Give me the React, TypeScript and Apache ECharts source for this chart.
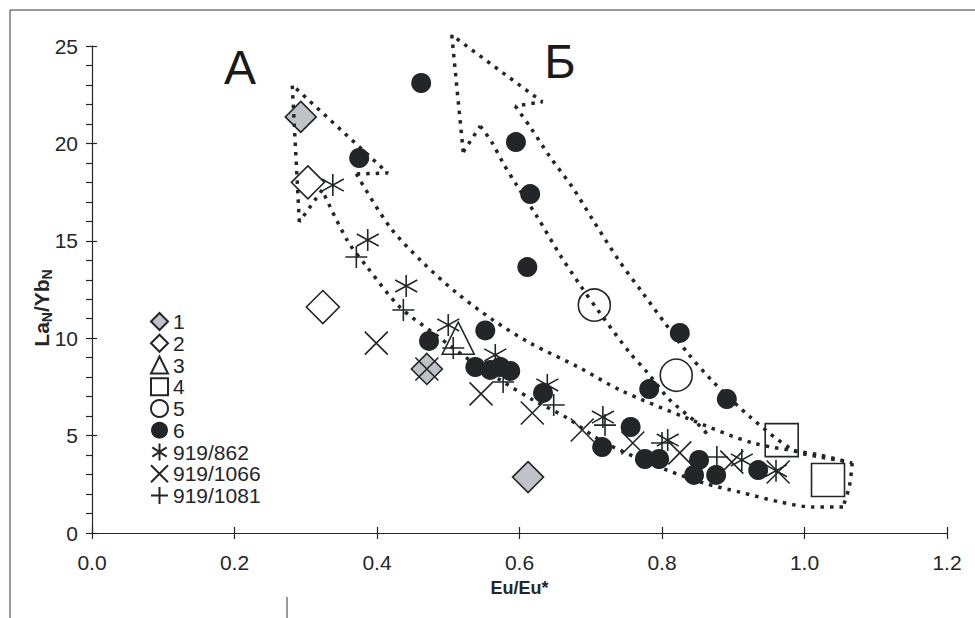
import React, { useEffect, useRef } from "react";
import * as echarts from "echarts";

// ---- data (Eu/Eu*, LaN/YbN) ----
const s1 = [[0.293, 21.36], [0.47, 8.42], [0.612, 2.87]];
const s2 = [[0.303, 18.0], [0.324, 11.6]];
const s3 = [[0.514, 10.0]];
const s4 = [[0.968, 4.77], [1.033, 2.72]];
const s5 = [[0.705, 11.7], [0.82, 8.1]];
const s6 = [
  [0.462, 23.1], [0.375, 19.25], [0.595, 20.07], [0.615, 17.4], [0.611, 13.65],
  [0.552, 10.4], [0.473, 9.86], [0.538, 8.52], [0.559, 8.37], [0.573, 8.52],
  [0.587, 8.32], [0.633, 7.19], [0.716, 4.41], [0.756, 5.44], [0.782, 7.39],
  [0.825, 10.27], [0.891, 6.88], [0.776, 3.8], [0.796, 3.8], [0.852, 3.75],
  [0.845, 2.98], [0.876, 2.98], [0.935, 3.23],
];
const s862 = [
  [0.338, 17.86], [0.387, 15.04], [0.441, 12.68], [0.5, 10.68], [0.566, 9.14],
  [0.639, 7.6], [0.717, 5.95], [0.808, 4.77], [0.912, 3.75], [0.96, 3.2],
];
const s1066 = [
  [0.399, 9.75], [0.47, 8.42], [0.546, 7.14], [0.618, 6.16], [0.688, 5.29],
  [0.759, 4.62], [0.825, 4.11], [0.898, 3.64], [0.963, 3.13],
];
const s1081 = [
  [0.371, 14.17], [0.437, 11.45], [0.507, 9.5], [0.577, 7.75], [0.648, 6.57],
  [0.72, 5.54], [0.8, 4.62], [0.877, 3.9],
];

// ---- outlined fields (dotted arrows) ----
const arrowAHead = [[0.291, 15.97], [0.281, 23.0], [0.415, 18.48], [0.371, 18.43]];
const arrowAUpper = [
  [0.371, 18.43], [0.418, 15.71], [0.465, 13.86], [0.512, 12.32], [0.563, 10.93],
  [0.615, 9.75], [0.685, 8.47], [0.741, 7.34], [0.835, 5.9], [0.928, 4.62],
  [1.022, 4.0], [1.067, 3.59],
];
const arrowAEnd = [[1.067, 3.59], [1.063, 2.4], [1.054, 1.33]];
const arrowALower = [
  [1.054, 1.33], [1.012, 1.33], [0.966, 1.59], [0.909, 2.1], [0.858, 2.57],
  [0.807, 3.23], [0.759, 3.95], [0.713, 4.77], [0.667, 5.9], [0.619, 6.83],
  [0.573, 7.85], [0.526, 8.98], [0.479, 10.27], [0.432, 11.6], [0.386, 13.66],
  [0.358, 15.04], [0.323, 17.61],
];
const arrowANotch = [[0.323, 17.61], [0.291, 15.97]];

const arrowBHead = [[0.521, 19.56], [0.512, 22.9], [0.505, 25.56], [0.632, 22.13], [0.594, 21.92]];
const arrowBRight = [
  [0.594, 21.92], [0.615, 20.84], [0.643, 19.3], [0.675, 17.71], [0.703, 16.07],
  [0.741, 13.91], [0.773, 12.32], [0.804, 10.78], [0.836, 9.24], [0.872, 7.75],
  [0.924, 5.95], [0.984, 4.26], [1.022, 3.9], [1.064, 3.64],
];
const arrowBNotch = [[0.521, 19.56], [0.545, 20.89]];
const arrowBLeft = [
  [0.545, 20.89], [0.561, 20.07], [0.577, 18.99], [0.596, 17.86], [0.625, 16.22],
  [0.657, 14.27], [0.685, 12.73], [0.713, 11.29], [0.755, 9.24], [0.779, 8.26],
  [0.811, 6.83], [0.849, 5.65], [0.867, 4.93],
];

const legendNames = ["1", "2", "3", "4", "5", "6", "919/862", "919/1066", "919/1081"];

const FONT = "'Liberation Sans', Arial, sans-serif";
const INK = "#232629";

const ASTERISK = "path://M10,0 L10,20 M1.5,4.5 L18.5,15.5 M1.5,15.5 L18.5,4.5";
const CROSS = "path://M0,0 L20,20 M0,20 L20,0";
const PLUS = "path://M10,0 L10,20 M0,10 L20,10";

export default function App() {
  const ref = useRef<HTMLDivElement>(null);
  useEffect(() => {
    if (!ref.current) return;
    const chart = echarts.init(ref.current, null, { renderer: "svg" });

    const scatter = (name: string, data: number[][], symbol: string, size: number, itemStyle: any) => ({
      type: "scatter",
      name,
      data,
      symbol,
      symbolSize: size,
      itemStyle: { opacity: 1, ...itemStyle },
      xAxisIndex: 0,
      yAxisIndex: 0,
      silent: true,
    });
    const dotted = (data: number[][], smooth: number) => ({
      type: "line",
      data,
      symbol: "none",
      smooth,
      clip: false,
      silent: true,
      xAxisIndex: 0,
      yAxisIndex: 0,
      lineStyle: { color: INK, width: 3.5, type: [3.5, 6], cap: "butt", opacity: 1 },
      z: 5,
    });
    const stroke = { color: "rgba(255,255,255,0)", borderColor: INK, borderWidth: 1.6 };

    chart.setOption({
      animation: false,
      backgroundColor: "#ffffff",
      grid: { left: 92, top: 46, right: 28, bottom: 85 },
      xAxis: [
        {
          type: "value",
          min: 0,
          max: 1.2,
          interval: 0.2,
          axisLine: { show: true, onZero: false, lineStyle: { color: INK, width: 1.2 } },
          axisTick: { show: true, length: 6, lineStyle: { color: INK, width: 1.2 } },
          axisLabel: {
            margin: 19,
            fontSize: 21,
            color: INK,
            fontFamily: FONT,
            formatter: (v: number) => v.toFixed(1),
          },
          splitLine: { show: false },
          name: "Eu/Eu*",
          nameLocation: "middle",
          nameGap: 46,
          nameTextStyle: { fontSize: 18, fontWeight: "bold", color: INK, fontFamily: FONT },
        },
        {
          type: "value",
          min: 0,
          max: 1.2,
          interval: 0.2,
          position: "bottom",
          axisLine: { show: false },
          axisTick: { show: true, inside: true, length: 6, lineStyle: { color: INK, width: 1.2 } },
          axisLabel: { show: false },
          splitLine: { show: false },
        },
      ],
      yAxis: [
        {
          type: "value",
          min: 0,
          max: 25,
          interval: 5,
          axisLine: { show: true, onZero: false, lineStyle: { color: INK, width: 1.2 } },
          axisTick: { show: true, length: 6, lineStyle: { color: INK, width: 1.2 } },
          minorTick: { show: true, splitNumber: 5, length: 6, lineStyle: { color: INK, width: 1.2 } },
          axisLabel: { margin: 14, fontSize: 21, color: INK, fontFamily: FONT },
          splitLine: { show: false },
          minorSplitLine: { show: false },
        },
        {
          type: "value",
          min: 0,
          max: 25,
          interval: 5,
          position: "left",
          axisLine: { show: false },
          axisTick: { show: true, inside: true, length: 5, lineStyle: { color: INK, width: 1.2 } },
          axisLabel: { show: false },
          splitLine: { show: false },
        },
      ],
      legend: {
        data: legendNames,
        orient: "vertical",
        left: 145,
        top: 306,
        itemWidth: 17,
        itemHeight: 17,
        itemGap: 0.75,
        textStyle: { fontSize: 21, color: INK, fontFamily: FONT, lineHeight: 21 },
        selectedMode: false,
      },
      graphic: [
        { type: "line", shape: { x1: 10, y1: 10, x2: 975, y2: 10 }, style: { stroke: "#333", lineWidth: 1 } },
        { type: "line", shape: { x1: 10, y1: 10, x2: 10, y2: 618 }, style: { stroke: "#333", lineWidth: 1 } },
        { type: "line", shape: { x1: 287, y1: 597, x2: 287, y2: 618 }, style: { stroke: "#333", lineWidth: 1 } },
        {
          type: "text",
          x: 240,
          y: 67,
          style: { text: "А", fontSize: 48, fontFamily: FONT, fill: "#1a1a1a", align: "center", verticalAlign: "middle" },
        },
        {
          type: "text",
          x: 560,
          y: 61,
          style: { text: "Б", fontSize: 48, fontFamily: FONT, fill: "#1a1a1a", align: "center", verticalAlign: "middle" },
        },
        {
          type: "text",
          x: 41,
          y: 308,
          rotation: Math.PI / 2,
          style: {
            text: "{b|La}{s|N}{b|/Yb}{s|N}",
            align: "center",
            verticalAlign: "middle",
            rich: {
              b: { fontSize: 21, fontWeight: "bold", fontFamily: FONT, fill: INK, color: INK, lineHeight: 26, verticalAlign: "middle" },
              s: { fontSize: 14, fontWeight: "bold", fontFamily: FONT, fill: INK, color: INK, lineHeight: 26, verticalAlign: "bottom", padding: [9, 0, 0, 0] },
            },
          },
        },
      ],
      series: [
        scatter("1", s1, "diamond", 31, { color: "#c0c2c8", borderColor: INK, borderWidth: 1.6 }),
        scatter("2", s2, "diamond", 33, { color: "#ffffff", borderColor: INK, borderWidth: 1.6 }),
        scatter("3", s3, "triangle", 32, stroke),
        scatter("4", s4, "rect", 33, stroke),
        scatter("5", s5, "circle", 32, stroke),
        scatter("6", s6, "circle", 20, { color: INK, borderColor: INK, borderWidth: 0 }),
        scatter("919/862", s862, ASTERISK, 22, stroke),
        scatter("919/1066", s1066, CROSS, 23, stroke),
        scatter("919/1081", s1081, PLUS, 22, stroke),
        dotted(arrowAHead, 0),
        dotted(arrowAUpper, 0.3),
        dotted(arrowAEnd, 0.3),
        dotted(arrowALower, 0.3),
        dotted(arrowANotch, 0),
        dotted(arrowBHead, 0),
        dotted(arrowBRight, 0.3),
        dotted(arrowBNotch, 0),
        dotted(arrowBLeft, 0.3),
      ],
    });
    return () => chart.dispose();
  }, []);

  return (
    <div
      ref={ref}
      style={{ position: "fixed", left: 0, top: 0, width: 975, height: 618, background: "#fff" }}
    />
  );
}
